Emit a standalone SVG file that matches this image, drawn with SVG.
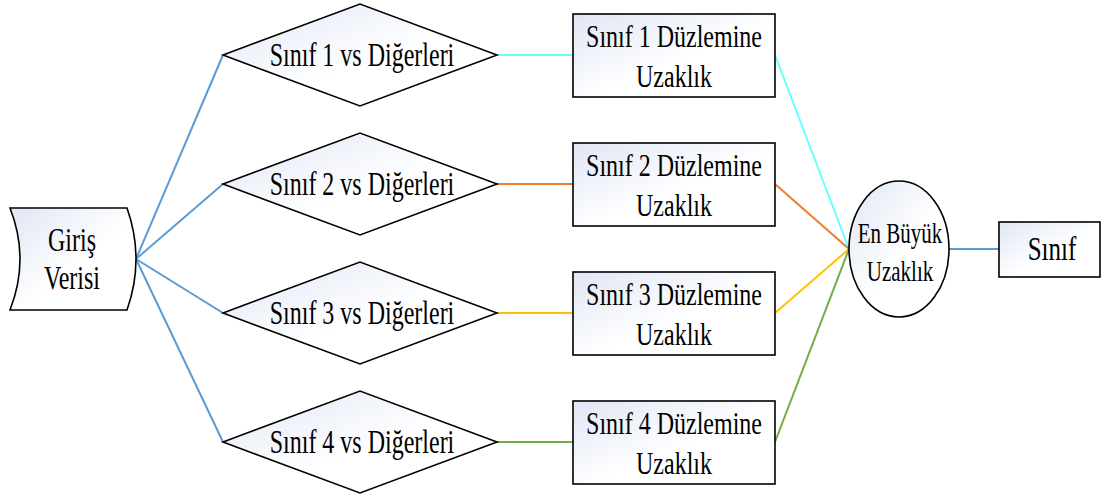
<svg xmlns="http://www.w3.org/2000/svg" width="1103" height="498" viewBox="0 0 1103 498">
<defs>
<linearGradient id="g" x1="0" y1="0" x2="1" y2="1">
<stop offset="0" stop-color="#DFE6F4"/>
<stop offset="0.55" stop-color="#FFFFFF"/>
<stop offset="1" stop-color="#FFFFFF"/>
</linearGradient>
<style>
.shape{fill:url(#g);stroke:#000;stroke-width:1.6}
.t{font-family:"Liberation Serif","Times New Roman",serif;font-size:24px;fill:#000;text-anchor:middle}
.c{fill:none;stroke-width:2}
.blue{stroke:#5B9BD5}.cyan{stroke:#66FFFF}.orange{stroke:#ED7D31}.yellow{stroke:#FFC000}.green{stroke:#70AD47}
</style>
</defs>
<g id="connectors">
<line class="c blue" x1="136" y1="259" x2="223" y2="55"/>
<line class="c blue" x1="136" y1="259" x2="223" y2="184"/>
<line class="c blue" x1="136" y1="259" x2="223" y2="313"/>
<line class="c blue" x1="136" y1="259" x2="223" y2="442"/>
<line class="c cyan" x1="497" y1="55" x2="573" y2="55"/>
<line class="c orange" x1="497" y1="184" x2="573" y2="184"/>
<line class="c yellow" x1="497" y1="313" x2="573" y2="313"/>
<line class="c green" x1="497" y1="442" x2="573" y2="442"/>
<line class="c cyan" x1="775" y1="55" x2="849" y2="249"/>
<line class="c orange" x1="775" y1="184" x2="849" y2="249"/>
<line class="c yellow" x1="775" y1="313" x2="849" y2="249"/>
<line class="c green" x1="775" y1="442" x2="849" y2="249"/>
<line class="c blue" x1="949" y1="249" x2="999" y2="249"/>
</g>
<g id="giris">
<path class="shape" d="M10,208 L127,208 Q145,259 127,310 L10,310 Q30,259 10,208 Z"/>
<text class="t" transform="translate(72,251) scale(1,1.4)">Giriş</text>
<text class="t" transform="translate(72,289) scale(1,1.4)">Verisi</text>
</g>
<g id="d1">
<polygon class="shape" points="223,55 360,4 497,55 360,106"/>
<text class="t" transform="translate(362,66) scale(1,1.4)">Sınıf 1 vs Diğerleri</text>
</g>
<g id="d2">
<polygon class="shape" points="223,184 360,133 497,184 360,235"/>
<text class="t" transform="translate(362,195) scale(1,1.4)">Sınıf 2 vs Diğerleri</text>
</g>
<g id="d3">
<polygon class="shape" points="223,313 360,262 497,313 360,364"/>
<text class="t" transform="translate(362,324) scale(1,1.4)">Sınıf 3 vs Diğerleri</text>
</g>
<g id="d4">
<polygon class="shape" points="223,442 360,391 497,442 360,493"/>
<text class="t" transform="translate(362,453) scale(1,1.4)">Sınıf 4 vs Diğerleri</text>
</g>
<g id="r1">
<rect class="shape" x="573" y="14" width="202" height="83"/>
<text class="t" transform="translate(674,47) scale(1,1.35)">Sınıf 1 Düzlemine</text>
<text class="t" transform="translate(674,87) scale(1,1.35)">Uzaklık</text>
</g>
<g id="r2">
<rect class="shape" x="573" y="143" width="202" height="83"/>
<text class="t" transform="translate(674,176) scale(1,1.35)">Sınıf 2 Düzlemine</text>
<text class="t" transform="translate(674,216) scale(1,1.35)">Uzaklık</text>
</g>
<g id="r3">
<rect class="shape" x="573" y="272" width="202" height="83"/>
<text class="t" transform="translate(674,305) scale(1,1.35)">Sınıf 3 Düzlemine</text>
<text class="t" transform="translate(674,345) scale(1,1.35)">Uzaklık</text>
</g>
<g id="r4">
<rect class="shape" x="573" y="401" width="202" height="83"/>
<text class="t" transform="translate(674,434) scale(1,1.35)">Sınıf 4 Düzlemine</text>
<text class="t" transform="translate(674,474) scale(1,1.35)">Uzaklık</text>
</g>
<g id="max">
<ellipse class="shape" cx="899" cy="249" rx="50" ry="68"/>
<text class="t" style="font-size:21px" transform="translate(900,243) scale(1,1.45)">En Büyük</text>
<text class="t" style="font-size:21px" transform="translate(900,281) scale(1,1.45)">Uzaklık</text>
</g>
<g id="sinif">
<rect class="shape" x="999" y="222" width="101" height="55"/>
<text class="t" style="font-size:25px" transform="translate(1052,260) scale(1,1.35)">Sınıf</text>
</g>
</svg>
